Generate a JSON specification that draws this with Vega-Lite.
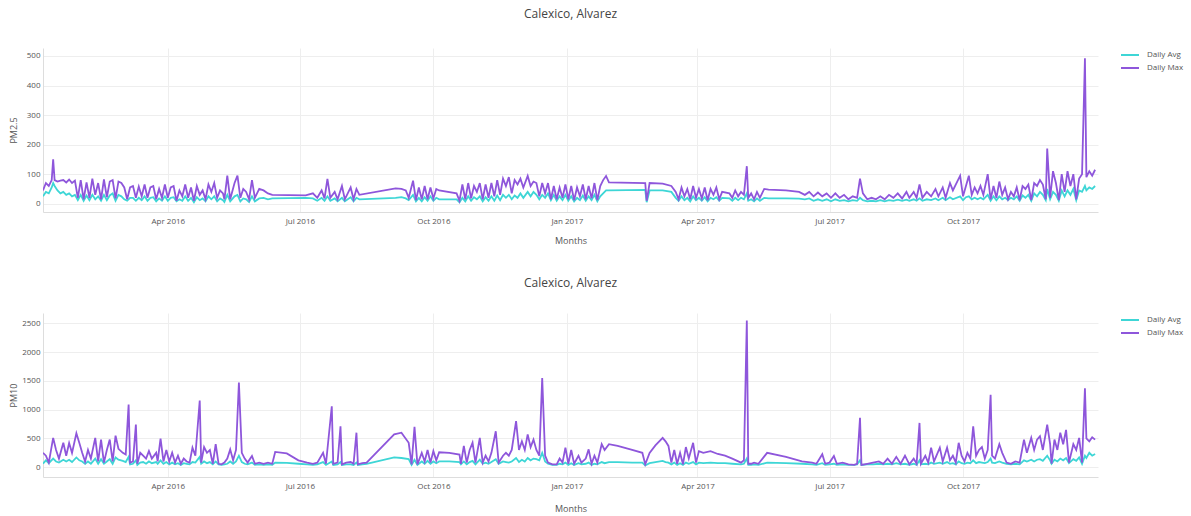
{
  "$schema": "https://vega.github.io/schema/vega-lite/v6.json",
  "padding": {"left": 9, "top": 8, "right": 5, "bottom": 5},
  "background": "white",
  "spacing": 32,
  "resolve": {"scale": {"color": "independent"}, "legend": {"color": "independent"}},
  "config": {
    "font": "Open Sans",
    "view": {"stroke": null},
    "title": {"fontSize": 12, "fontWeight": "normal", "color": "#444", "offset": 27},
    "axis": {"labelFontSize": 8, "labelColor": "#555", "titleFontSize": 9, "titleFontWeight": "normal", "titleColor": "#555", "gridColor": "#eeeeee", "domainColor": "#dddddd", "ticks": false},
    "axisY": {"minExtent": 22, "maxExtent": 22, "titlePadding": 3, "labelPadding": 3},
    "legend": {"labelFontSize": 8, "labelColor": "#555", "symbolType": "M-1.5,0L1.5,0", "symbolSize": 144, "symbolStrokeWidth": 2, "labelOffset": 10, "rowPadding": 2}
  },
  "datasets": {
    "pm25": [
      {"d":"2016-01-06","Daily Avg":25,"Daily Max":45},{"d":"2016-01-08","Daily Avg":40,"Daily Max":70},{"d":"2016-01-10","Daily Avg":35,"Daily Max":60},{"d":"2016-01-12","Daily Avg":55,"Daily Max":80},{"d":"2016-01-13","Daily Avg":70,"Daily Max":150},{"d":"2016-01-14","Daily Avg":60,"Daily Max":80},{"d":"2016-01-16","Daily Avg":45,"Daily Max":75},{"d":"2016-01-18","Daily Avg":35,"Daily Max":78},{"d":"2016-01-20","Daily Avg":40,"Daily Max":80},{"d":"2016-01-22","Daily Avg":30,"Daily Max":72},{"d":"2016-01-24","Daily Avg":35,"Daily Max":82},{"d":"2016-01-26","Daily Avg":25,"Daily Max":70},{"d":"2016-01-28","Daily Avg":30,"Daily Max":78},{"d":"2016-01-30","Daily Avg":12,"Daily Max":20},
      {"d":"2016-02-01","Daily Avg":30,"Daily Max":80},{"d":"2016-02-03","Daily Avg":10,"Daily Max":15},{"d":"2016-02-05","Daily Avg":28,"Daily Max":72},{"d":"2016-02-07","Daily Avg":12,"Daily Max":20},{"d":"2016-02-09","Daily Avg":30,"Daily Max":85},{"d":"2016-02-11","Daily Avg":15,"Daily Max":30},{"d":"2016-02-13","Daily Avg":25,"Daily Max":70},{"d":"2016-02-15","Daily Avg":10,"Daily Max":15},{"d":"2016-02-17","Daily Avg":30,"Daily Max":82},{"d":"2016-02-19","Daily Avg":12,"Daily Max":22},{"d":"2016-02-21","Daily Avg":28,"Daily Max":75},{"d":"2016-02-23","Daily Avg":35,"Daily Max":80},{"d":"2016-02-25","Daily Avg":10,"Daily Max":18},{"d":"2016-02-27","Daily Avg":30,"Daily Max":75},{"d":"2016-02-29","Daily Avg":25,"Daily Max":70},
      {"d":"2016-03-02","Daily Avg":15,"Daily Max":55},{"d":"2016-03-04","Daily Avg":10,"Daily Max":15},{"d":"2016-03-06","Daily Avg":20,"Daily Max":55},{"d":"2016-03-08","Daily Avg":20,"Daily Max":60},{"d":"2016-03-10","Daily Avg":10,"Daily Max":20},{"d":"2016-03-12","Daily Avg":20,"Daily Max":58},{"d":"2016-03-14","Daily Avg":12,"Daily Max":25},{"d":"2016-03-16","Daily Avg":25,"Daily Max":65},{"d":"2016-03-18","Daily Avg":10,"Daily Max":20},{"d":"2016-03-20","Daily Avg":20,"Daily Max":55},{"d":"2016-03-22","Daily Avg":22,"Daily Max":60},{"d":"2016-03-24","Daily Avg":8,"Daily Max":15},{"d":"2016-03-26","Daily Avg":18,"Daily Max":50},{"d":"2016-03-28","Daily Avg":10,"Daily Max":20},{"d":"2016-03-30","Daily Avg":25,"Daily Max":65},
      {"d":"2016-04-01","Daily Avg":10,"Daily Max":20},{"d":"2016-04-03","Daily Avg":20,"Daily Max":55},{"d":"2016-04-05","Daily Avg":22,"Daily Max":60},{"d":"2016-04-07","Daily Avg":8,"Daily Max":10},{"d":"2016-04-09","Daily Avg":15,"Daily Max":45},{"d":"2016-04-11","Daily Avg":10,"Daily Max":25},{"d":"2016-04-13","Daily Avg":25,"Daily Max":65},{"d":"2016-04-15","Daily Avg":10,"Daily Max":20},{"d":"2016-04-17","Daily Avg":20,"Daily Max":55},{"d":"2016-04-19","Daily Avg":5,"Daily Max":10},{"d":"2016-04-21","Daily Avg":22,"Daily Max":60},{"d":"2016-04-23","Daily Avg":12,"Daily Max":30},{"d":"2016-04-25","Daily Avg":18,"Daily Max":45},{"d":"2016-04-27","Daily Avg":8,"Daily Max":15},{"d":"2016-04-29","Daily Avg":25,"Daily Max":65},
      {"d":"2016-05-01","Daily Avg":15,"Daily Max":40},{"d":"2016-05-03","Daily Avg":25,"Daily Max":70},{"d":"2016-05-05","Daily Avg":8,"Daily Max":20},{"d":"2016-05-07","Daily Avg":18,"Daily Max":45},{"d":"2016-05-09","Daily Avg":12,"Daily Max":35},{"d":"2016-05-10","Daily Avg":6,"Daily Max":15},{"d":"2016-05-12","Daily Avg":30,"Daily Max":95},{"d":"2016-05-14","Daily Avg":8,"Daily Max":15},{"d":"2016-05-17","Daily Avg":25,"Daily Max":70},{"d":"2016-05-19","Daily Avg":30,"Daily Max":95},{"d":"2016-05-21","Daily Avg":8,"Daily Max":20},{"d":"2016-05-23","Daily Avg":18,"Daily Max":50},{"d":"2016-05-25","Daily Avg":15,"Daily Max":40},{"d":"2016-05-27","Daily Avg":6,"Daily Max":15},{"d":"2016-05-29","Daily Avg":25,"Daily Max":80},{"d":"2016-05-31","Daily Avg":8,"Daily Max":20},
      {"d":"2016-06-03","Daily Avg":18,"Daily Max":50},{"d":"2016-06-06","Daily Avg":20,"Daily Max":45},{"d":"2016-06-09","Daily Avg":15,"Daily Max":35},{"d":"2016-06-12","Daily Avg":18,"Daily Max":30},{"d":"2016-07-05","Daily Avg":20,"Daily Max":28},{"d":"2016-07-10","Daily Avg":18,"Daily Max":35},{"d":"2016-07-13","Daily Avg":10,"Daily Max":20},{"d":"2016-07-16","Daily Avg":20,"Daily Max":45},{"d":"2016-07-18","Daily Avg":10,"Daily Max":18},{"d":"2016-07-20","Daily Avg":25,"Daily Max":84},{"d":"2016-07-22","Daily Avg":10,"Daily Max":20},{"d":"2016-07-25","Daily Avg":18,"Daily Max":40},{"d":"2016-07-27","Daily Avg":8,"Daily Max":15},{"d":"2016-07-30","Daily Avg":20,"Daily Max":60},
      {"d":"2016-08-01","Daily Avg":8,"Daily Max":15},{"d":"2016-08-03","Daily Avg":15,"Daily Max":35},{"d":"2016-08-05","Daily Avg":22,"Daily Max":55},{"d":"2016-08-07","Daily Avg":8,"Daily Max":15},{"d":"2016-08-09","Daily Avg":20,"Daily Max":50},{"d":"2016-08-11","Daily Avg":15,"Daily Max":30},{"d":"2016-09-05","Daily Avg":20,"Daily Max":52},{"d":"2016-09-09","Daily Avg":22,"Daily Max":50},{"d":"2016-09-12","Daily Avg":18,"Daily Max":45},{"d":"2016-09-14","Daily Avg":12,"Daily Max":20},{"d":"2016-09-17","Daily Avg":30,"Daily Max":78},{"d":"2016-09-19","Daily Avg":8,"Daily Max":12},{"d":"2016-09-21","Daily Avg":20,"Daily Max":55},{"d":"2016-09-23","Daily Avg":8,"Daily Max":15},{"d":"2016-09-25","Daily Avg":22,"Daily Max":60},{"d":"2016-09-27","Daily Avg":10,"Daily Max":15},{"d":"2016-09-29","Daily Avg":25,"Daily Max":55},
      {"d":"2016-10-01","Daily Avg":10,"Daily Max":18},{"d":"2016-10-03","Daily Avg":20,"Daily Max":50},{"d":"2016-10-05","Daily Avg":15,"Daily Max":45},{"d":"2016-10-17","Daily Avg":15,"Daily Max":35},{"d":"2016-10-19","Daily Avg":5,"Daily Max":10},{"d":"2016-10-21","Daily Avg":20,"Daily Max":65},{"d":"2016-10-23","Daily Avg":8,"Daily Max":15},{"d":"2016-10-25","Daily Avg":25,"Daily Max":70},{"d":"2016-10-27","Daily Avg":10,"Daily Max":18},{"d":"2016-10-29","Daily Avg":22,"Daily Max":60},{"d":"2016-10-31","Daily Avg":15,"Daily Max":40},
      {"d":"2016-11-02","Daily Avg":25,"Daily Max":70},{"d":"2016-11-04","Daily Avg":8,"Daily Max":15},{"d":"2016-11-06","Daily Avg":22,"Daily Max":65},{"d":"2016-11-08","Daily Avg":10,"Daily Max":20},{"d":"2016-11-10","Daily Avg":25,"Daily Max":70},{"d":"2016-11-12","Daily Avg":10,"Daily Max":25},{"d":"2016-11-14","Daily Avg":28,"Daily Max":80},{"d":"2016-11-16","Daily Avg":12,"Daily Max":30},{"d":"2016-11-18","Daily Avg":30,"Daily Max":85},{"d":"2016-11-20","Daily Avg":20,"Daily Max":60},{"d":"2016-11-22","Daily Avg":30,"Daily Max":90},{"d":"2016-11-24","Daily Avg":15,"Daily Max":35},{"d":"2016-11-26","Daily Avg":28,"Daily Max":80},{"d":"2016-11-28","Daily Avg":20,"Daily Max":65},{"d":"2016-11-30","Daily Avg":35,"Daily Max":85},
      {"d":"2016-12-02","Daily Avg":20,"Daily Max":55},{"d":"2016-12-05","Daily Avg":40,"Daily Max":94},{"d":"2016-12-07","Daily Avg":25,"Daily Max":60},{"d":"2016-12-09","Daily Avg":40,"Daily Max":75},{"d":"2016-12-11","Daily Avg":30,"Daily Max":70},{"d":"2016-12-13","Daily Avg":15,"Daily Max":25},{"d":"2016-12-15","Daily Avg":30,"Daily Max":70},{"d":"2016-12-17","Daily Avg":20,"Daily Max":35},{"d":"2016-12-19","Daily Avg":35,"Daily Max":70},{"d":"2016-12-21","Daily Avg":12,"Daily Max":15},{"d":"2016-12-23","Daily Avg":30,"Daily Max":60},{"d":"2016-12-25","Daily Avg":10,"Daily Max":15},{"d":"2016-12-27","Daily Avg":25,"Daily Max":55},{"d":"2016-12-29","Daily Avg":12,"Daily Max":20},{"d":"2016-12-31","Daily Avg":30,"Daily Max":65},
      {"d":"2017-01-02","Daily Avg":10,"Daily Max":15},{"d":"2017-01-04","Daily Avg":25,"Daily Max":60},{"d":"2017-01-06","Daily Avg":8,"Daily Max":12},{"d":"2017-01-08","Daily Avg":20,"Daily Max":55},{"d":"2017-01-10","Daily Avg":12,"Daily Max":25},{"d":"2017-01-12","Daily Avg":28,"Daily Max":65},{"d":"2017-01-14","Daily Avg":10,"Daily Max":15},{"d":"2017-01-16","Daily Avg":25,"Daily Max":60},{"d":"2017-01-18","Daily Avg":12,"Daily Max":18},{"d":"2017-01-20","Daily Avg":30,"Daily Max":70},{"d":"2017-01-22","Daily Avg":8,"Daily Max":12},{"d":"2017-01-24","Daily Avg":25,"Daily Max":60},{"d":"2017-01-26","Daily Avg":35,"Daily Max":80},{"d":"2017-01-28","Daily Avg":45,"Daily Max":94},{"d":"2017-01-30","Daily Avg":45,"Daily Max":72},
      {"d":"2017-02-24","Daily Avg":47,"Daily Max":70},{"d":"2017-02-25","Daily Avg":5,"Daily Max":10},{"d":"2017-02-27","Daily Avg":45,"Daily Max":70},{"d":"2017-03-08","Daily Avg":45,"Daily Max":68},{"d":"2017-03-14","Daily Avg":40,"Daily Max":60},{"d":"2017-03-17","Daily Avg":20,"Daily Max":40},{"d":"2017-03-19","Daily Avg":10,"Daily Max":15},{"d":"2017-03-21","Daily Avg":25,"Daily Max":55},{"d":"2017-03-23","Daily Avg":12,"Daily Max":25},{"d":"2017-03-25","Daily Avg":20,"Daily Max":50},{"d":"2017-03-27","Daily Avg":8,"Daily Max":15},{"d":"2017-03-29","Daily Avg":25,"Daily Max":60},{"d":"2017-03-31","Daily Avg":12,"Daily Max":20},
      {"d":"2017-04-02","Daily Avg":20,"Daily Max":50},{"d":"2017-04-04","Daily Avg":10,"Daily Max":18},{"d":"2017-04-06","Daily Avg":22,"Daily Max":55},{"d":"2017-04-08","Daily Avg":8,"Daily Max":12},{"d":"2017-04-10","Daily Avg":20,"Daily Max":50},{"d":"2017-04-12","Daily Avg":15,"Daily Max":30},{"d":"2017-04-14","Daily Avg":22,"Daily Max":55},{"d":"2017-04-16","Daily Avg":10,"Daily Max":15},{"d":"2017-04-18","Daily Avg":20,"Daily Max":40},{"d":"2017-04-23","Daily Avg":18,"Daily Max":35},{"d":"2017-04-25","Daily Avg":10,"Daily Max":20},{"d":"2017-04-27","Daily Avg":20,"Daily Max":45},{"d":"2017-04-29","Daily Avg":12,"Daily Max":25},
      {"d":"2017-05-01","Daily Avg":20,"Daily Max":40},{"d":"2017-05-03","Daily Avg":15,"Daily Max":30},{"d":"2017-05-05","Daily Avg":35,"Daily Max":127},{"d":"2017-05-06","Daily Avg":10,"Daily Max":20},{"d":"2017-05-08","Daily Avg":15,"Daily Max":35},{"d":"2017-05-10","Daily Avg":8,"Daily Max":15},{"d":"2017-05-12","Daily Avg":18,"Daily Max":40},{"d":"2017-05-14","Daily Avg":10,"Daily Max":20},{"d":"2017-05-17","Daily Avg":20,"Daily Max":50},{"d":"2017-05-20","Daily Avg":18,"Daily Max":48},
      {"d":"2017-06-01","Daily Avg":18,"Daily Max":45},{"d":"2017-06-10","Daily Avg":17,"Daily Max":40},{"d":"2017-06-14","Daily Avg":15,"Daily Max":30},{"d":"2017-06-17","Daily Avg":18,"Daily Max":40},{"d":"2017-06-20","Daily Avg":10,"Daily Max":25},{"d":"2017-06-23","Daily Avg":15,"Daily Max":38},{"d":"2017-06-26","Daily Avg":10,"Daily Max":25},{"d":"2017-06-29","Daily Avg":15,"Daily Max":35},
      {"d":"2017-07-02","Daily Avg":8,"Daily Max":20},{"d":"2017-07-05","Daily Avg":15,"Daily Max":35},{"d":"2017-07-08","Daily Avg":10,"Daily Max":20},{"d":"2017-07-11","Daily Avg":12,"Daily Max":30},{"d":"2017-07-14","Daily Avg":8,"Daily Max":15},{"d":"2017-07-17","Daily Avg":12,"Daily Max":25},{"d":"2017-07-20","Daily Avg":10,"Daily Max":20},{"d":"2017-07-22","Daily Avg":20,"Daily Max":85},{"d":"2017-07-24","Daily Avg":12,"Daily Max":35},{"d":"2017-07-27","Daily Avg":8,"Daily Max":15},{"d":"2017-07-30","Daily Avg":10,"Daily Max":20},
      {"d":"2017-08-02","Daily Avg":8,"Daily Max":15},{"d":"2017-08-05","Daily Avg":12,"Daily Max":25},{"d":"2017-08-08","Daily Avg":8,"Daily Max":15},{"d":"2017-08-11","Daily Avg":12,"Daily Max":30},{"d":"2017-08-14","Daily Avg":10,"Daily Max":20},{"d":"2017-08-17","Daily Avg":14,"Daily Max":35},{"d":"2017-08-20","Daily Avg":10,"Daily Max":18},{"d":"2017-08-23","Daily Avg":14,"Daily Max":40},{"d":"2017-08-25","Daily Avg":10,"Daily Max":20},{"d":"2017-08-28","Daily Avg":15,"Daily Max":40},{"d":"2017-08-30","Daily Avg":10,"Daily Max":20},
      {"d":"2017-09-01","Daily Avg":18,"Daily Max":65},{"d":"2017-09-03","Daily Avg":10,"Daily Max":20},{"d":"2017-09-06","Daily Avg":15,"Daily Max":40},{"d":"2017-09-09","Daily Avg":12,"Daily Max":25},{"d":"2017-09-12","Daily Avg":18,"Daily Max":50},{"d":"2017-09-14","Daily Avg":12,"Daily Max":25},{"d":"2017-09-17","Daily Avg":20,"Daily Max":55},{"d":"2017-09-19","Daily Avg":12,"Daily Max":20},{"d":"2017-09-22","Daily Avg":22,"Daily Max":70},{"d":"2017-09-24","Daily Avg":15,"Daily Max":45},{"d":"2017-09-29","Daily Avg":25,"Daily Max":95},
      {"d":"2017-10-01","Daily Avg":12,"Daily Max":25},{"d":"2017-10-03","Daily Avg":22,"Daily Max":60},{"d":"2017-10-05","Daily Avg":25,"Daily Max":95},{"d":"2017-10-07","Daily Avg":15,"Daily Max":30},{"d":"2017-10-09","Daily Avg":20,"Daily Max":55},{"d":"2017-10-11","Daily Avg":15,"Daily Max":35},{"d":"2017-10-13","Daily Avg":20,"Daily Max":60},{"d":"2017-10-15","Daily Avg":15,"Daily Max":30},{"d":"2017-10-18","Daily Avg":30,"Daily Max":100},{"d":"2017-10-20","Daily Avg":10,"Daily Max":15},{"d":"2017-10-22","Daily Avg":25,"Daily Max":60},{"d":"2017-10-24","Daily Avg":12,"Daily Max":20},{"d":"2017-10-26","Daily Avg":25,"Daily Max":75},{"d":"2017-10-28","Daily Avg":15,"Daily Max":30},{"d":"2017-10-30","Daily Avg":20,"Daily Max":55},
      {"d":"2017-11-01","Daily Avg":12,"Daily Max":15},{"d":"2017-11-03","Daily Avg":20,"Daily Max":40},{"d":"2017-11-05","Daily Avg":15,"Daily Max":25},{"d":"2017-11-07","Daily Avg":25,"Daily Max":55},{"d":"2017-11-09","Daily Avg":10,"Daily Max":12},{"d":"2017-11-11","Daily Avg":28,"Daily Max":60},{"d":"2017-11-13","Daily Avg":20,"Daily Max":50},{"d":"2017-11-15","Daily Avg":30,"Daily Max":65},{"d":"2017-11-17","Daily Avg":10,"Daily Max":12},{"d":"2017-11-19","Daily Avg":35,"Daily Max":70},{"d":"2017-11-21","Daily Avg":25,"Daily Max":60},{"d":"2017-11-23","Daily Avg":40,"Daily Max":80},{"d":"2017-11-25","Daily Avg":30,"Daily Max":65},{"d":"2017-11-27","Daily Avg":12,"Daily Max":15},{"d":"2017-11-28","Daily Avg":50,"Daily Max":187},{"d":"2017-11-30","Daily Avg":15,"Daily Max":20},
      {"d":"2017-12-02","Daily Avg":40,"Daily Max":110},{"d":"2017-12-04","Daily Avg":30,"Daily Max":70},{"d":"2017-12-06","Daily Avg":10,"Daily Max":12},{"d":"2017-12-08","Daily Avg":45,"Daily Max":100},{"d":"2017-12-10","Daily Avg":25,"Daily Max":40},{"d":"2017-12-12","Daily Avg":45,"Daily Max":110},{"d":"2017-12-14","Daily Avg":30,"Daily Max":60},{"d":"2017-12-16","Daily Avg":50,"Daily Max":100},{"d":"2017-12-18","Daily Avg":12,"Daily Max":15},{"d":"2017-12-20","Daily Avg":45,"Daily Max":85},{"d":"2017-12-22","Daily Avg":40,"Daily Max":100},{"d":"2017-12-24","Daily Avg":60,"Daily Max":492},{"d":"2017-12-25","Daily Avg":45,"Daily Max":90},{"d":"2017-12-27","Daily Avg":55,"Daily Max":110},{"d":"2017-12-29","Daily Avg":50,"Daily Max":95},{"d":"2017-12-31","Daily Avg":60,"Daily Max":115}
    ],
    "pm10": [
      {"d":"2016-01-06","Daily Avg":60,"Daily Max":250},{"d":"2016-01-08","Daily Avg":120,"Daily Max":200},{"d":"2016-01-10","Daily Avg":70,"Daily Max":80},{"d":"2016-01-13","Daily Avg":150,"Daily Max":510},{"d":"2016-01-15","Daily Avg":100,"Daily Max":300},{"d":"2016-01-17","Daily Avg":80,"Daily Max":150},{"d":"2016-01-20","Daily Avg":130,"Daily Max":425},{"d":"2016-01-22","Daily Avg":100,"Daily Max":200},{"d":"2016-01-24","Daily Avg":130,"Daily Max":420},{"d":"2016-01-26","Daily Avg":90,"Daily Max":250},{"d":"2016-01-29","Daily Avg":170,"Daily Max":590},{"d":"2016-01-31","Daily Avg":120,"Daily Max":425},
      {"d":"2016-02-02","Daily Avg":100,"Daily Max":250},{"d":"2016-02-04","Daily Avg":60,"Daily Max":100},{"d":"2016-02-06","Daily Avg":100,"Daily Max":300},{"d":"2016-02-08","Daily Avg":60,"Daily Max":150},{"d":"2016-02-11","Daily Avg":150,"Daily Max":510},{"d":"2016-02-13","Daily Avg":60,"Daily Max":100},{"d":"2016-02-15","Daily Avg":140,"Daily Max":480},{"d":"2016-02-17","Daily Avg":60,"Daily Max":80},{"d":"2016-02-19","Daily Avg":100,"Daily Max":300},{"d":"2016-02-21","Daily Avg":140,"Daily Max":480},{"d":"2016-02-23","Daily Avg":60,"Daily Max":100},{"d":"2016-02-25","Daily Avg":170,"Daily Max":550},{"d":"2016-02-27","Daily Avg":130,"Daily Max":320},
      {"d":"2016-03-01","Daily Avg":110,"Daily Max":250},{"d":"2016-03-03","Daily Avg":90,"Daily Max":220},{"d":"2016-03-05","Daily Avg":180,"Daily Max":1090},{"d":"2016-03-06","Daily Avg":50,"Daily Max":80},{"d":"2016-03-08","Daily Avg":60,"Daily Max":100},{"d":"2016-03-10","Daily Avg":120,"Daily Max":740},{"d":"2016-03-11","Daily Avg":40,"Daily Max":60},{"d":"2016-03-13","Daily Avg":80,"Daily Max":250},{"d":"2016-03-15","Daily Avg":90,"Daily Max":200},{"d":"2016-03-17","Daily Avg":60,"Daily Max":150},{"d":"2016-03-19","Daily Avg":100,"Daily Max":280},{"d":"2016-03-21","Daily Avg":70,"Daily Max":150},{"d":"2016-03-24","Daily Avg":90,"Daily Max":250},{"d":"2016-03-25","Daily Avg":60,"Daily Max":100},{"d":"2016-03-27","Daily Avg":120,"Daily Max":495},{"d":"2016-03-29","Daily Avg":60,"Daily Max":100},{"d":"2016-03-31","Daily Avg":90,"Daily Max":300},
      {"d":"2016-04-02","Daily Avg":50,"Daily Max":100},{"d":"2016-04-04","Daily Avg":80,"Daily Max":250},{"d":"2016-04-06","Daily Avg":50,"Daily Max":80},{"d":"2016-04-08","Daily Avg":70,"Daily Max":200},{"d":"2016-04-10","Daily Avg":40,"Daily Max":60},{"d":"2016-04-12","Daily Avg":70,"Daily Max":150},{"d":"2016-04-14","Daily Avg":60,"Daily Max":100},{"d":"2016-04-16","Daily Avg":50,"Daily Max":80},{"d":"2016-04-18","Daily Avg":90,"Daily Max":340},{"d":"2016-04-20","Daily Avg":80,"Daily Max":200},{"d":"2016-04-23","Daily Avg":180,"Daily Max":1160},{"d":"2016-04-24","Daily Avg":60,"Daily Max":80},{"d":"2016-04-26","Daily Avg":100,"Daily Max":350},{"d":"2016-04-28","Daily Avg":70,"Daily Max":250},{"d":"2016-04-30","Daily Avg":90,"Daily Max":300},
      {"d":"2016-05-02","Daily Avg":50,"Daily Max":60},{"d":"2016-05-04","Daily Avg":100,"Daily Max":400},{"d":"2016-05-06","Daily Avg":50,"Daily Max":60},{"d":"2016-05-08","Daily Avg":40,"Daily Max":50},{"d":"2016-05-10","Daily Avg":50,"Daily Max":80},{"d":"2016-05-12","Daily Avg":60,"Daily Max":150},{"d":"2016-05-14","Daily Avg":100,"Daily Max":310},{"d":"2016-05-16","Daily Avg":60,"Daily Max":120},{"d":"2016-05-18","Daily Avg":100,"Daily Max":300},{"d":"2016-05-20","Daily Avg":200,"Daily Max":1470},{"d":"2016-05-22","Daily Avg":90,"Daily Max":250},{"d":"2016-05-24","Daily Avg":60,"Daily Max":150},{"d":"2016-05-26","Daily Avg":50,"Daily Max":80},{"d":"2016-05-29","Daily Avg":80,"Daily Max":195},{"d":"2016-05-31","Daily Avg":40,"Daily Max":60},
      {"d":"2016-06-03","Daily Avg":50,"Daily Max":80},{"d":"2016-06-06","Daily Avg":40,"Daily Max":60},{"d":"2016-06-09","Daily Avg":50,"Daily Max":80},{"d":"2016-06-12","Daily Avg":40,"Daily Max":60},{"d":"2016-06-14","Daily Avg":80,"Daily Max":265},{"d":"2016-06-22","Daily Avg":75,"Daily Max":240},{"d":"2016-06-30","Daily Avg":60,"Daily Max":120},
      {"d":"2016-07-06","Daily Avg":50,"Daily Max":80},{"d":"2016-07-10","Daily Avg":40,"Daily Max":60},{"d":"2016-07-13","Daily Avg":50,"Daily Max":80},{"d":"2016-07-17","Daily Avg":90,"Daily Max":250},{"d":"2016-07-19","Daily Avg":40,"Daily Max":60},{"d":"2016-07-23","Daily Avg":100,"Daily Max":1060},{"d":"2016-07-24","Daily Avg":40,"Daily Max":60},{"d":"2016-07-27","Daily Avg":50,"Daily Max":80},{"d":"2016-07-29","Daily Avg":90,"Daily Max":710},{"d":"2016-07-30","Daily Avg":40,"Daily Max":50},
      {"d":"2016-08-02","Daily Avg":50,"Daily Max":80},{"d":"2016-08-05","Daily Avg":50,"Daily Max":90},{"d":"2016-08-07","Daily Avg":40,"Daily Max":60},{"d":"2016-08-09","Daily Avg":80,"Daily Max":600},{"d":"2016-08-10","Daily Avg":40,"Daily Max":50},{"d":"2016-08-13","Daily Avg":50,"Daily Max":70},{"d":"2016-08-16","Daily Avg":60,"Daily Max":80},
      {"d":"2016-09-04","Daily Avg":170,"Daily Max":570},{"d":"2016-09-09","Daily Avg":160,"Daily Max":600},{"d":"2016-09-14","Daily Avg":140,"Daily Max":425},{"d":"2016-09-16","Daily Avg":40,"Daily Max":50},{"d":"2016-09-18","Daily Avg":130,"Daily Max":700},{"d":"2016-09-20","Daily Avg":40,"Daily Max":50},{"d":"2016-09-23","Daily Avg":100,"Daily Max":250},{"d":"2016-09-25","Daily Avg":60,"Daily Max":100},{"d":"2016-09-27","Daily Avg":110,"Daily Max":300},{"d":"2016-09-29","Daily Avg":60,"Daily Max":80},
      {"d":"2016-10-01","Daily Avg":100,"Daily Max":280},{"d":"2016-10-03","Daily Avg":70,"Daily Max":120},{"d":"2016-10-05","Daily Avg":100,"Daily Max":260},{"d":"2016-10-12","Daily Avg":100,"Daily Max":250},{"d":"2016-10-19","Daily Avg":90,"Daily Max":220},{"d":"2016-10-20","Daily Avg":50,"Daily Max":60},{"d":"2016-10-22","Daily Avg":100,"Daily Max":370},{"d":"2016-10-24","Daily Avg":50,"Daily Max":80},{"d":"2016-10-26","Daily Avg":90,"Daily Max":300},{"d":"2016-10-28","Daily Avg":110,"Daily Max":425},{"d":"2016-10-30","Daily Avg":50,"Daily Max":80},
      {"d":"2016-11-02","Daily Avg":130,"Daily Max":510},{"d":"2016-11-04","Daily Avg":60,"Daily Max":80},{"d":"2016-11-06","Daily Avg":80,"Daily Max":200},{"d":"2016-11-08","Daily Avg":60,"Daily Max":100},{"d":"2016-11-10","Daily Avg":90,"Daily Max":250},{"d":"2016-11-13","Daily Avg":140,"Daily Max":625},{"d":"2016-11-15","Daily Avg":60,"Daily Max":80},{"d":"2016-11-18","Daily Avg":100,"Daily Max":200},{"d":"2016-11-20","Daily Avg":90,"Daily Max":250},{"d":"2016-11-22","Daily Avg":80,"Daily Max":200},{"d":"2016-11-24","Daily Avg":100,"Daily Max":300},{"d":"2016-11-27","Daily Avg":160,"Daily Max":800},{"d":"2016-11-29","Daily Avg":90,"Daily Max":300},
      {"d":"2016-12-01","Daily Avg":130,"Daily Max":450},{"d":"2016-12-03","Daily Avg":100,"Daily Max":300},{"d":"2016-12-05","Daily Avg":160,"Daily Max":570},{"d":"2016-12-07","Daily Avg":120,"Daily Max":350},{"d":"2016-12-09","Daily Avg":150,"Daily Max":480},{"d":"2016-12-11","Daily Avg":140,"Daily Max":300},{"d":"2016-12-13","Daily Avg":120,"Daily Max":200},{"d":"2016-12-15","Daily Avg":250,"Daily Max":1550},{"d":"2016-12-17","Daily Avg":100,"Daily Max":200},{"d":"2016-12-19","Daily Avg":60,"Daily Max":80},{"d":"2016-12-22","Daily Avg":40,"Daily Max":50},{"d":"2016-12-25","Daily Avg":40,"Daily Max":50},{"d":"2016-12-27","Daily Avg":60,"Daily Max":150},{"d":"2016-12-29","Daily Avg":50,"Daily Max":80},{"d":"2016-12-31","Daily Avg":80,"Daily Max":340},
      {"d":"2017-01-02","Daily Avg":40,"Daily Max":60},{"d":"2017-01-04","Daily Avg":70,"Daily Max":300},{"d":"2017-01-06","Daily Avg":40,"Daily Max":60},{"d":"2017-01-09","Daily Avg":70,"Daily Max":200},{"d":"2017-01-11","Daily Avg":50,"Daily Max":80},{"d":"2017-01-14","Daily Avg":60,"Daily Max":150},{"d":"2017-01-16","Daily Avg":80,"Daily Max":310},{"d":"2017-01-18","Daily Avg":40,"Daily Max":60},{"d":"2017-01-20","Daily Avg":60,"Daily Max":200},{"d":"2017-01-22","Daily Avg":50,"Daily Max":80},{"d":"2017-01-25","Daily Avg":90,"Daily Max":400},{"d":"2017-01-27","Daily Avg":70,"Daily Max":300},{"d":"2017-01-30","Daily Avg":90,"Daily Max":400},
      {"d":"2017-02-05","Daily Avg":90,"Daily Max":370},{"d":"2017-02-15","Daily Avg":80,"Daily Max":300},{"d":"2017-02-22","Daily Avg":80,"Daily Max":250},{"d":"2017-02-24","Daily Avg":30,"Daily Max":50},{"d":"2017-02-27","Daily Avg":70,"Daily Max":250},
      {"d":"2017-03-03","Daily Avg":90,"Daily Max":380},{"d":"2017-03-08","Daily Avg":110,"Daily Max":510},{"d":"2017-03-10","Daily Avg":90,"Daily Max":450},{"d":"2017-03-12","Daily Avg":80,"Daily Max":370},{"d":"2017-03-14","Daily Avg":50,"Daily Max":80},{"d":"2017-03-16","Daily Avg":80,"Daily Max":300},{"d":"2017-03-18","Daily Avg":40,"Daily Max":60},{"d":"2017-03-20","Daily Avg":70,"Daily Max":250},{"d":"2017-03-22","Daily Avg":40,"Daily Max":50},{"d":"2017-03-24","Daily Avg":80,"Daily Max":350},{"d":"2017-03-26","Daily Avg":60,"Daily Max":150},{"d":"2017-03-29","Daily Avg":90,"Daily Max":425},{"d":"2017-03-31","Daily Avg":50,"Daily Max":80},
      {"d":"2017-04-02","Daily Avg":80,"Daily Max":280},{"d":"2017-04-05","Daily Avg":70,"Daily Max":250},{"d":"2017-04-10","Daily Avg":80,"Daily Max":280},{"d":"2017-04-15","Daily Avg":70,"Daily Max":230},{"d":"2017-04-20","Daily Avg":70,"Daily Max":200},{"d":"2017-04-25","Daily Avg":60,"Daily Max":150},
      {"d":"2017-05-01","Daily Avg":50,"Daily Max":80},{"d":"2017-05-03","Daily Avg":60,"Daily Max":120},{"d":"2017-05-05","Daily Avg":150,"Daily Max":2550},{"d":"2017-05-06","Daily Avg":40,"Daily Max":60},{"d":"2017-05-08","Daily Avg":40,"Daily Max":60},{"d":"2017-05-10","Daily Avg":50,"Daily Max":80},{"d":"2017-05-13","Daily Avg":40,"Daily Max":60},{"d":"2017-05-19","Daily Avg":80,"Daily Max":250},
      {"d":"2017-06-01","Daily Avg":70,"Daily Max":180},{"d":"2017-06-12","Daily Avg":60,"Daily Max":100},{"d":"2017-06-19","Daily Avg":50,"Daily Max":80},{"d":"2017-06-22","Daily Avg":40,"Daily Max":60},{"d":"2017-06-26","Daily Avg":70,"Daily Max":225},{"d":"2017-06-28","Daily Avg":40,"Daily Max":60},
      {"d":"2017-07-01","Daily Avg":50,"Daily Max":80},{"d":"2017-07-04","Daily Avg":60,"Daily Max":195},{"d":"2017-07-06","Daily Avg":40,"Daily Max":60},{"d":"2017-07-10","Daily Avg":50,"Daily Max":80},{"d":"2017-07-14","Daily Avg":40,"Daily Max":50},{"d":"2017-07-18","Daily Avg":40,"Daily Max":40},{"d":"2017-07-20","Daily Avg":50,"Daily Max":60},{"d":"2017-07-22","Daily Avg":120,"Daily Max":860},{"d":"2017-07-23","Daily Avg":40,"Daily Max":40},{"d":"2017-07-27","Daily Avg":50,"Daily Max":60},{"d":"2017-07-31","Daily Avg":50,"Daily Max":80},
      {"d":"2017-08-04","Daily Avg":60,"Daily Max":100},{"d":"2017-08-07","Daily Avg":50,"Daily Max":60},{"d":"2017-08-10","Daily Avg":60,"Daily Max":150},{"d":"2017-08-13","Daily Avg":50,"Daily Max":60},{"d":"2017-08-16","Daily Avg":70,"Daily Max":180},{"d":"2017-08-19","Daily Avg":50,"Daily Max":60},{"d":"2017-08-22","Daily Avg":60,"Daily Max":200},{"d":"2017-08-25","Daily Avg":40,"Daily Max":50},{"d":"2017-08-28","Daily Avg":60,"Daily Max":150},{"d":"2017-08-30","Daily Avg":40,"Daily Max":60},
      {"d":"2017-09-01","Daily Avg":120,"Daily Max":770},{"d":"2017-09-02","Daily Avg":50,"Daily Max":60},{"d":"2017-09-05","Daily Avg":60,"Daily Max":200},{"d":"2017-09-07","Daily Avg":50,"Daily Max":80},{"d":"2017-09-09","Daily Avg":80,"Daily Max":340},{"d":"2017-09-11","Daily Avg":60,"Daily Max":100},{"d":"2017-09-15","Daily Avg":80,"Daily Max":340},{"d":"2017-09-17","Daily Avg":60,"Daily Max":100},{"d":"2017-09-20","Daily Avg":90,"Daily Max":340},{"d":"2017-09-22","Daily Avg":60,"Daily Max":120},{"d":"2017-09-24","Daily Avg":70,"Daily Max":200},{"d":"2017-09-26","Daily Avg":50,"Daily Max":80},{"d":"2017-09-28","Daily Avg":100,"Daily Max":425},{"d":"2017-09-30","Daily Avg":70,"Daily Max":200},
      {"d":"2017-10-02","Daily Avg":60,"Daily Max":100},{"d":"2017-10-04","Daily Avg":80,"Daily Max":250},{"d":"2017-10-06","Daily Avg":70,"Daily Max":150},{"d":"2017-10-08","Daily Avg":120,"Daily Max":710},{"d":"2017-10-10","Daily Avg":70,"Daily Max":200},{"d":"2017-10-12","Daily Avg":90,"Daily Max":300},{"d":"2017-10-14","Daily Avg":80,"Daily Max":350},{"d":"2017-10-16","Daily Avg":70,"Daily Max":150},{"d":"2017-10-18","Daily Avg":90,"Daily Max":300},{"d":"2017-10-20","Daily Avg":150,"Daily Max":1260},{"d":"2017-10-21","Daily Avg":80,"Daily Max":200},{"d":"2017-10-23","Daily Avg":70,"Daily Max":150},{"d":"2017-10-26","Daily Avg":100,"Daily Max":400},{"d":"2017-10-28","Daily Avg":80,"Daily Max":250},{"d":"2017-10-31","Daily Avg":60,"Daily Max":80},
      {"d":"2017-11-03","Daily Avg":50,"Daily Max":60},{"d":"2017-11-06","Daily Avg":60,"Daily Max":100},{"d":"2017-11-09","Daily Avg":50,"Daily Max":80},{"d":"2017-11-12","Daily Avg":120,"Daily Max":480},{"d":"2017-11-14","Daily Avg":100,"Daily Max":250},{"d":"2017-11-17","Daily Avg":130,"Daily Max":510},{"d":"2017-11-19","Daily Avg":100,"Daily Max":300},{"d":"2017-11-21","Daily Avg":130,"Daily Max":480},{"d":"2017-11-23","Daily Avg":140,"Daily Max":540},{"d":"2017-11-25","Daily Avg":110,"Daily Max":300},{"d":"2017-11-28","Daily Avg":200,"Daily Max":740},{"d":"2017-11-30","Daily Avg":120,"Daily Max":400},
      {"d":"2017-12-01","Daily Avg":60,"Daily Max":60},{"d":"2017-12-03","Daily Avg":130,"Daily Max":480},{"d":"2017-12-05","Daily Avg":100,"Daily Max":300},{"d":"2017-12-07","Daily Avg":150,"Daily Max":600},{"d":"2017-12-09","Daily Avg":120,"Daily Max":400},{"d":"2017-12-11","Daily Avg":160,"Daily Max":650},{"d":"2017-12-13","Daily Avg":70,"Daily Max":80},{"d":"2017-12-16","Daily Avg":140,"Daily Max":400},{"d":"2017-12-18","Daily Avg":110,"Daily Max":300},{"d":"2017-12-20","Daily Avg":170,"Daily Max":510},{"d":"2017-12-22","Daily Avg":60,"Daily Max":80},{"d":"2017-12-24","Daily Avg":200,"Daily Max":1370},{"d":"2017-12-25","Daily Avg":160,"Daily Max":500},{"d":"2017-12-27","Daily Avg":250,"Daily Max":450},{"d":"2017-12-29","Daily Avg":200,"Daily Max":520},{"d":"2017-12-31","Daily Avg":230,"Daily Max":480}
    ]
  },
  "vconcat": [
    {
      "title": "Calexico, Alvarez",
      "width": 1055,
      "height": 164,
      "data": {"name": "pm25"},
      "transform": [{"fold": ["Daily Avg", "Daily Max"], "as": ["series", "value"]}],
      "mark": {"type": "line", "strokeWidth": 1.8, "clip": true},
      "encoding": {
        "x": {"field": "d", "type": "temporal",
          "scale": {"type": "utc", "domain": [{"year": 2016, "month": 1, "date": 6, "utc": true}, {"year": 2018, "month": 1, "date": 2, "utc": true}]},
          "axis": {"title": "Months", "format": "%b %Y", "labelPadding": 5, "titlePadding": 11,
            "values": [{"year": 2016, "month": 4, "date": 1, "utc": true}, {"year": 2016, "month": 7, "date": 1, "utc": true}, {"year": 2016, "month": 10, "date": 1, "utc": true}, {"year": 2017, "month": 1, "date": 1, "utc": true}, {"year": 2017, "month": 4, "date": 1, "utc": true}, {"year": 2017, "month": 7, "date": 1, "utc": true}, {"year": 2017, "month": 10, "date": 1, "utc": true}]}},
        "y": {"field": "value", "type": "quantitative",
          "scale": {"domain": [-28, 527], "nice": false, "zero": false},
          "axis": {"title": "PM2.5", "format": "d", "values": [0, 100, 200, 300, 400, 500]}},
        "color": {"field": "series", "type": "nominal",
          "scale": {"domain": ["Daily Avg", "Daily Max"], "range": ["#3ED6D6", "#8E56DB"]},
          "legend": {"title": null, "orient": "none", "legendX": 1080, "legendY": 0}}
      }
    },
    {
      "title": {"text": "Calexico, Alvarez", "offset": 23},
      "width": 1055,
      "height": 164,
      "data": {"name": "pm10"},
      "transform": [{"fold": ["Daily Avg", "Daily Max"], "as": ["series", "value"]}],
      "mark": {"type": "line", "strokeWidth": 1.8, "clip": true},
      "encoding": {
        "x": {"field": "d", "type": "temporal",
          "scale": {"type": "utc", "domain": [{"year": 2016, "month": 1, "date": 6, "utc": true}, {"year": 2018, "month": 1, "date": 2, "utc": true}]},
          "axis": {"title": "Months", "format": "%b %Y", "labelPadding": 5, "titlePadding": 14,
            "values": [{"year": 2016, "month": 4, "date": 1, "utc": true}, {"year": 2016, "month": 7, "date": 1, "utc": true}, {"year": 2016, "month": 10, "date": 1, "utc": true}, {"year": 2017, "month": 1, "date": 1, "utc": true}, {"year": 2017, "month": 4, "date": 1, "utc": true}, {"year": 2017, "month": 7, "date": 1, "utc": true}, {"year": 2017, "month": 10, "date": 1, "utc": true}]}},
        "y": {"field": "value", "type": "quantitative",
          "scale": {"domain": [-170, 2680], "nice": false, "zero": false},
          "axis": {"title": "PM10", "format": "d", "values": [0, 500, 1000, 1500, 2000, 2500]}},
        "color": {"field": "series", "type": "nominal",
          "scale": {"domain": ["Daily Avg", "Daily Max"], "range": ["#3ED6D6", "#8E56DB"]},
          "legend": {"title": null, "orient": "none", "legendX": 1080, "legendY": 0}}
      }
    }
  ]
}
